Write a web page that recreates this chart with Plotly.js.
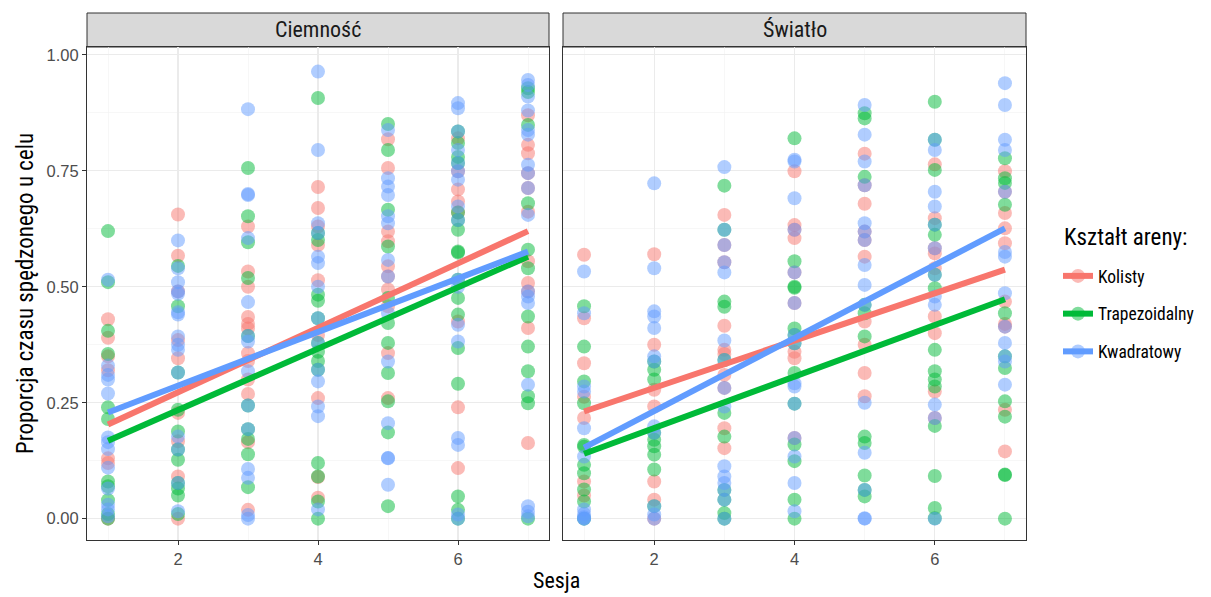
<!DOCTYPE html>
<html>
<head>
<meta charset="utf-8">
<script src="https://cdn.plot.ly/plotly-3.0.1.min.js"></script>
<style>html,body{margin:0;padding:0;background:#fff;}#chart{width:1211px;height:597px;}</style>
</head>
<body>
<div id="chart"></div>
<script>
// ---------- DATA ----------
const sessions = [1, 2, 3, 4, 5, 6, 7];
const shapes = ["Kolisty", "Trapezoidalny", "Kwadratowy"];
const panels = ["Ciemność", "Światło"];
const legendTitle = "Kształt areny:";
const colors = ["#F8766D", "#00BA38", "#619CFF"];
const colorsAlpha = ["rgba(248,118,109,0.5)", "rgba(0,186,56,0.5)", "rgba(97,156,255,0.5)"];

// Ciemność – values per session (1..7)
const ciemKolisty = [
  [0.43, 0.39, 0.35, 0.32, 0.13, 0.12, 0.0],
  [0.656, 0.567, 0.49, 0.385, 0.346, 0.228, 0.167, 0.091, 0.0],
  [0.63, 0.533, 0.50, 0.435, 0.42, 0.41, 0.357, 0.34, 0.30, 0.269, 0.165, 0.019],
  [0.715, 0.67, 0.63, 0.59, 0.514, 0.396, 0.26, 0.09, 0.045],
  [0.818, 0.756, 0.619, 0.598, 0.544, 0.522, 0.494, 0.458, 0.357, 0.26],
  [0.82, 0.749, 0.71, 0.684, 0.66, 0.425, 0.24, 0.109],
  [0.87, 0.806, 0.788, 0.745, 0.713, 0.662, 0.555, 0.508, 0.49, 0.411, 0.163]
];
const ciemTrapezoidalny = [
  [0.62, 0.51, 0.405, 0.355, 0.24, 0.215, 0.08, 0.07, 0.04, 0.01, 0.0],
  [0.545, 0.458, 0.315, 0.235, 0.188, 0.149, 0.127, 0.077, 0.065, 0.05, 0.01],
  [0.756, 0.652, 0.596, 0.519, 0.394, 0.244, 0.193, 0.172, 0.139, 0.068],
  [0.907, 0.616, 0.601, 0.483, 0.47, 0.432, 0.379, 0.36, 0.34, 0.321, 0.12, 0.091, 0.037, 0.0],
  [0.851, 0.795, 0.666, 0.587, 0.476, 0.422, 0.379, 0.314, 0.253, 0.186, 0.027],
  [0.835, 0.81, 0.78, 0.767, 0.66, 0.644, 0.623, 0.576, 0.574, 0.515, 0.476, 0.44, 0.368, 0.291, 0.048, 0.019, 0.0],
  [0.928, 0.92, 0.849, 0.68, 0.58, 0.54, 0.436, 0.371, 0.318, 0.264, 0.249, 0.0]
];
const ciemKwadratowy = [
  [0.515, 0.33, 0.31, 0.30, 0.27, 0.175, 0.165, 0.15, 0.11, 0.065, 0.03, 0.02, 0.005],
  [0.60, 0.54, 0.51, 0.49, 0.485, 0.445, 0.44, 0.393, 0.375, 0.364, 0.315, 0.177, 0.149, 0.077, 0.016],
  [0.883, 0.70, 0.698, 0.605, 0.467, 0.394, 0.382, 0.318, 0.244, 0.193, 0.107, 0.088, 0.008, 0.0],
  [0.964, 0.795, 0.637, 0.616, 0.565, 0.551, 0.50, 0.432, 0.379, 0.321, 0.296, 0.242, 0.221, 0.02],
  [0.838, 0.734, 0.716, 0.698, 0.652, 0.637, 0.558, 0.522, 0.443, 0.339, 0.206, 0.131, 0.13, 0.073],
  [0.896, 0.885, 0.835, 0.795, 0.767, 0.749, 0.731, 0.673, 0.644, 0.515, 0.50, 0.418, 0.382, 0.174, 0.159, 0.009, 0.0],
  [0.946, 0.935, 0.91, 0.88, 0.838, 0.828, 0.763, 0.745, 0.713, 0.655, 0.49, 0.479, 0.465, 0.289, 0.027, 0.015, 0.005]
];

// Światło – values per session (1..7)
const swiatKolisty = [
  [0.569, 0.432, 0.335, 0.263, 0.217, 0.08, 0.05],
  [0.57, 0.375, 0.278, 0.242, 0.08, 0.041, 0.0],
  [0.655, 0.59, 0.553, 0.416, 0.364, 0.355, 0.31, 0.282, 0.195, 0.152],
  [0.749, 0.633, 0.623, 0.605, 0.531, 0.465, 0.36, 0.346, 0.174],
  [0.787, 0.719, 0.679, 0.619, 0.601, 0.565, 0.425, 0.375, 0.314, 0.264],
  [0.764, 0.648, 0.583, 0.572, 0.54, 0.436, 0.40, 0.274, 0.217],
  [0.749, 0.705, 0.659, 0.626, 0.594, 0.468, 0.42, 0.414, 0.235, 0.145]
];
const swiatTrapezoidalny = [
  [0.458, 0.371, 0.296, 0.249, 0.159, 0.155, 0.116, 0.098, 0.063, 0.037, 0.0],
  [0.339, 0.321, 0.30, 0.185, 0.17, 0.156, 0.138, 0.106, 0.027],
  [0.718, 0.623, 0.468, 0.457, 0.342, 0.228, 0.177, 0.062, 0.041, 0.012, 0.0],
  [0.82, 0.555, 0.50, 0.498, 0.41, 0.396, 0.378, 0.314, 0.248, 0.16, 0.124, 0.041, 0.0],
  [0.874, 0.863, 0.737, 0.461, 0.443, 0.393, 0.177, 0.163, 0.093, 0.062, 0.048],
  [0.899, 0.817, 0.752, 0.634, 0.612, 0.526, 0.497, 0.364, 0.318, 0.30, 0.285, 0.2, 0.092, 0.023, 0.001],
  [0.777, 0.734, 0.724, 0.677, 0.443, 0.35, 0.325, 0.253, 0.22, 0.094, 0.095, 0.0]
];
const swiatKwadratowy = [
  [0.533, 0.443, 0.285, 0.274, 0.195, 0.134, 0.02, 0.01, 0.0, 0.0, 0.003],
  [0.723, 0.54, 0.447, 0.436, 0.411, 0.35, 0.339, 0.199, 0.185, 0.027, 0.009, 0.0],
  [0.758, 0.623, 0.59, 0.553, 0.531, 0.384, 0.342, 0.282, 0.242, 0.113, 0.091, 0.077, 0.062, 0.041, 0.0],
  [0.774, 0.77, 0.691, 0.623, 0.531, 0.465, 0.396, 0.378, 0.292, 0.285, 0.248, 0.174, 0.134, 0.077, 0.016],
  [0.892, 0.828, 0.77, 0.719, 0.637, 0.619, 0.601, 0.547, 0.504, 0.461, 0.25, 0.142, 0.062, 0.001, 0.0],
  [0.817, 0.795, 0.705, 0.673, 0.634, 0.583, 0.526, 0.479, 0.461, 0.246, 0.217, 0.0],
  [0.939, 0.892, 0.817, 0.795, 0.705, 0.575, 0.565, 0.486, 0.414, 0.379, 0.35, 0.339, 0.289]
];

// Fitted linear trend (value at session 1 and session 7), per shape
const fitSessions = [1, 7];
const ciemFit = [[0.203, 0.620], [0.168, 0.565], [0.229, 0.576]];
const swiatFit = [[0.231, 0.537], [0.140, 0.473], [0.153, 0.626]];

const yTicks = [0, 0.25, 0.5, 0.75, 1.0];
const xTicks = [2, 4, 6];

// ---------- BUILD ----------
const condFont = "'Liberation Sans Narrow', 'Roboto Condensed', 'Ubuntu Condensed', Roboto, sans-serif";
const panelData = [
  {groups: [ciemKolisty, ciemTrapezoidalny, ciemKwadratowy], fit: ciemFit, xa: "x", ya: "y"},
  {groups: [swiatKolisty, swiatTrapezoidalny, swiatKwadratowy], fit: swiatFit, xa: "x2", ya: "y2"}
];

const traces = [];
panelData.forEach(p => {
  p.groups.forEach((g, gi) => {
    const xs = [], ys = [];
    g.forEach((vals, si) => vals.forEach(v => { xs.push(sessions[si]); ys.push(v); }));
    traces.push({
      type: "scatter", mode: "markers", x: xs, y: ys, xaxis: p.xa, yaxis: p.ya,
      marker: {size: 14, color: colorsAlpha[gi], line: {width: 0}},
      showlegend: false, hoverinfo: "skip"
    });
  });
});
panelData.forEach(p => {
  p.fit.forEach((f, gi) => {
    traces.push({
      type: "scatter", mode: "lines", x: fitSessions, y: f, xaxis: p.xa, yaxis: p.ya,
      line: {color: colors[gi], width: 6}, showlegend: false, hoverinfo: "skip"
    });
  });
});
shapes.forEach((s, gi) => {
  traces.push({
    type: "scatter", mode: "lines+markers", x: [null], y: [null], name: s, legendgroup: s,
    line: {color: colors[gi], width: 6},
    marker: {size: 14, color: colorsAlpha[gi]}
  });
});

const gridCol = "#EBEBEB";
const tickFont = {family: "'Liberation Sans', Arial, sans-serif", size: 16.5, color: "#4D4D4D"};
const xBase = {
  range: [0.7, 7.3], tickvals: xTicks, ticktext: xTicks.map(String),
  showgrid: true, gridcolor: gridCol, gridwidth: 1.1,
  minor: {tick0: 1, dtick: 1, showgrid: true, gridcolor: "#F2F2F2", gridwidth: 0.6, ticks: ""},
  showline: true, mirror: true, linecolor: "#333333", linewidth: 1,
  ticks: "outside", ticklen: 4, tickcolor: "#333333", tickwidth: 1,
  tickfont: tickFont, zeroline: false
};
const yBase = {
  range: [-0.046, 1.017], tickvals: yTicks, ticktext: yTicks.map(v => v.toFixed(2)),
  showgrid: true, gridcolor: gridCol, gridwidth: 1.1,
  minor: {tick0: 0.125, dtick: 0.25, showgrid: true, gridcolor: "#F2F2F2", gridwidth: 0.6, ticks: ""},
  showline: true, mirror: true, linecolor: "#333333", linewidth: 1,
  ticks: "outside", ticklen: 4, tickcolor: "#333333", tickwidth: 1,
  tickfont: tickFont, zeroline: false
};
const W = 1211, H = 597;
const px = v => v / W, py = v => 1 - v / H;
const panelX = [[87, 549], [563, 1026]];

const layout = {
  width: W, height: H,
  margin: {l: 0, r: 0, t: 0, b: 0},
  paper_bgcolor: "#FFFFFF", plot_bgcolor: "#FFFFFF",
  showlegend: true,
  xaxis: Object.assign({}, xBase, {domain: [px(panelX[0][0]), px(panelX[0][1])], anchor: "y"}),
  xaxis2: Object.assign({}, xBase, {domain: [px(panelX[1][0]), px(panelX[1][1])], anchor: "y2"}),
  yaxis: Object.assign({}, yBase, {domain: [py(540), py(47)], anchor: "x",
    title: {text: "Proporcja czasu spędzonego u celu", font: {family: condFont, size: 23, color: "#000"}, standoff: 6}}),
  yaxis2: Object.assign({}, yBase, {domain: [py(540), py(47)], anchor: "x2", showticklabels: false, ticks: ""}),
  legend: {
    x: px(1058), y: py(258), xanchor: "left", yanchor: "top",
    font: {family: condFont, size: 17.5, color: "#000"},
    tracegroupgap: 12, itemwidth: 30, bgcolor: "rgba(0,0,0,0)"
  },
  shapes: panelX.map(([a, b]) => ({
    type: "rect", xref: "paper", yref: "paper", x0: px(a), x1: px(b), y0: py(47), y1: py(13),
    fillcolor: "#D9D9D9", line: {color: "#333333", width: 1}, layer: "below"
  })),
  annotations: panels.map((t, i) => ({
    text: t, xref: "paper", yref: "paper", x: px((panelX[i][0] + panelX[i][1]) / 2), y: py(30),
    xanchor: "center", yanchor: "middle", showarrow: false,
    font: {family: condFont, size: 22, color: "#1A1A1A"}
  })).concat([{
    text: "Sesja", xref: "paper", yref: "paper", x: px(556), y: py(580),
    xanchor: "center", yanchor: "middle", showarrow: false,
    font: {family: condFont, size: 22, color: "#000"}
  }, {
    text: legendTitle, xref: "paper", yref: "paper", x: px(1062), y: py(237),
    xanchor: "left", yanchor: "middle", showarrow: false,
    font: {family: condFont, size: 23, color: "#000"}
  }])
};

Plotly.newPlot("chart", traces, layout, {staticPlot: true, displayModeBar: false});
</script>
</body>
</html>
